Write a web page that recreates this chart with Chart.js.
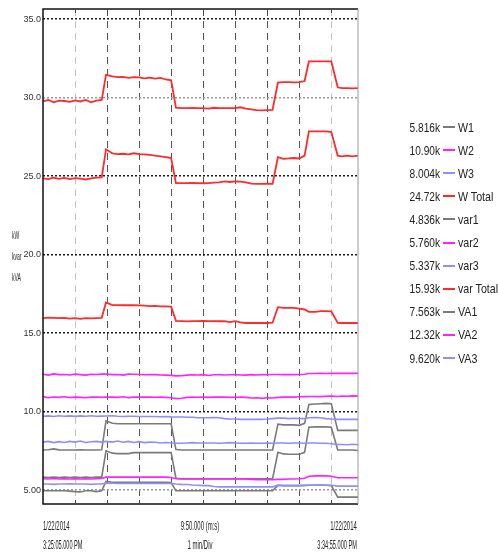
<!DOCTYPE html>
<html>
<head>
<meta charset="utf-8">
<script src="https://cdn.jsdelivr.net/npm/chart.js@4/dist/chart.umd.min.js"></script>
<style>
  body { margin: 0; background: #fff; }
  #wrap { position: relative; width: 498px; height: 557px; overflow: hidden; font-family: 'Liberation Sans', Arial, sans-serif; color: #222; }
  #chart { position: absolute; left: 0; top: 0; }
  .txt { position: absolute; white-space: nowrap; line-height: 1; }
  .swatch { position: absolute; height: 2px; width: 12px; }
</style>
</head>
<body>
<div id="wrap">
  <canvas id="chart" width="498" height="557"></canvas>
</div>
<script>
// time in seconds from 3:25:05.000 PM
const times = [0,10,20,30,40,50,60,70,80,90,100,110,118,130,140,150,160,170,180,190,200,210,220,230,240,249,260,270,280,290,300,310,320,330,340,350,360,370,380,390,400,410,420,430,440,450,460,470,480,490,498,510,520,530,540,552,560,570,580,590];

const w1 = [5.82,5.80,5.82,5.80,5.82,5.80,5.82,5.80,5.82,5.80,5.82,5.82,
  7.50,7.35,7.32,7.32,7.32,7.38,7.38,7.38,7.38,7.38,7.38,7.38,7.38,
  5.75,5.72,5.72,5.72,5.72,5.72,5.72,5.72,5.72,5.72,5.72,5.72,5.72,5.72,5.72,5.72,5.72,5.72,5.72,
  7.40,7.30,7.28,7.28,7.28,7.40,
  9.00,9.02,9.02,9.02,9.00,
  7.55,7.55,7.55,7.55,7.52];
const w2 = [10.95,10.88,10.93,10.90,10.94,10.89,10.92,10.90,10.88,10.92,10.93,10.90,
  10.93,10.92,10.90,10.94,10.88,10.92,10.93,10.92,10.93,10.91,10.92,10.90,10.88,
  10.82,10.85,10.90,10.92,10.91,10.92,10.90,10.92,10.93,10.92,10.90,10.91,10.92,10.90,10.86,10.88,10.84,10.88,10.86,
  10.90,10.92,10.93,10.92,10.94,10.95,
  10.96,10.96,10.95,10.97,10.98,
  10.96,10.98,10.97,11.00,10.98];
const w3 = [8.05,8.10,8.02,8.08,8.03,8.10,8.05,8.12,8.03,8.08,8.10,8.05,
  8.10,8.05,8.12,8.04,8.10,8.03,8.08,8.02,8.05,8.04,8.00,8.03,8.00,
  7.98,7.98,8.00,8.02,8.00,8.00,8.00,8.00,7.98,8.00,8.02,8.00,7.98,7.98,8.00,7.98,7.98,8.00,7.98,
  8.00,8.00,7.98,8.00,8.00,7.98,
  8.00,8.00,7.98,7.98,7.95,
  7.90,7.90,7.88,7.92,7.88];
const wTotal = [24.85,24.80,24.90,24.82,24.88,24.80,24.87,24.83,24.78,24.85,24.90,24.92,
  26.70,26.45,26.40,26.42,26.38,26.45,26.40,26.38,26.35,26.30,26.25,26.20,26.15,
  24.55,24.55,24.55,24.56,24.55,24.54,24.55,24.58,24.60,24.66,24.62,24.66,24.65,24.60,24.52,24.50,24.50,24.52,24.50,
  26.20,26.10,26.12,26.15,26.12,26.30,
  27.85,27.85,27.85,27.85,27.80,
  26.30,26.25,26.30,26.25,26.30];
const var1 = [4.95,4.95,4.95,4.95,4.95,4.93,4.90,4.88,4.95,4.95,4.90,4.95,
  5.55,5.50,5.50,5.50,5.50,5.50,5.50,5.50,5.50,5.50,5.50,5.50,5.48,
  4.95,4.95,4.95,4.95,4.95,4.95,4.95,4.95,4.95,4.95,4.95,4.95,4.95,4.95,4.95,4.95,4.95,4.95,4.95,
  5.30,5.28,5.28,5.28,5.28,5.30,
  5.30,5.30,5.32,5.30,5.28,
  4.55,4.55,4.55,4.55,4.55];
const var2 = [5.72,5.70,5.73,5.70,5.72,5.70,5.72,5.70,5.72,5.70,5.72,5.73,
  5.82,5.82,5.82,5.82,5.82,5.82,5.82,5.82,5.82,5.82,5.82,5.82,5.80,
  5.72,5.70,5.70,5.70,5.70,5.70,5.70,5.70,5.70,5.70,5.70,5.70,5.70,5.70,5.68,5.66,5.65,5.65,5.65,
  5.68,5.68,5.70,5.70,5.72,5.75,
  5.88,5.90,5.90,5.90,5.88,
  5.78,5.78,5.78,5.78,5.78];
const var3 = [5.38,5.38,5.36,5.38,5.38,5.40,5.38,5.38,5.38,5.36,5.38,5.38,
  5.45,5.43,5.42,5.42,5.42,5.43,5.42,5.42,5.42,5.42,5.42,5.42,5.42,
  5.38,5.36,5.35,5.32,5.30,5.28,5.28,5.22,5.20,5.20,5.20,5.20,5.20,5.20,5.20,5.20,5.20,5.20,5.20,
  5.30,5.28,5.28,5.28,5.28,5.28,
  5.30,5.32,5.30,5.30,5.30,
  5.25,5.25,5.25,5.25,5.25];
const varTotal = [15.95,15.98,15.97,15.95,15.96,15.92,15.95,15.90,15.95,15.93,15.95,15.97,
  16.95,16.78,16.78,16.77,16.77,16.77,16.76,16.75,16.72,16.73,16.70,16.70,16.68,
  15.78,15.76,15.74,15.76,15.76,15.78,15.76,15.76,15.75,15.76,15.70,15.76,15.68,15.64,15.64,15.64,15.64,15.64,15.66,
  16.65,16.60,16.60,16.60,16.55,16.50,
  16.35,16.35,16.40,16.40,16.38,
  15.65,15.64,15.64,15.64,15.64];
const va1 = [7.55,7.57,7.62,7.56,7.55,7.55,7.55,7.56,7.55,7.55,7.55,7.56,
  9.40,9.25,9.22,9.22,9.22,9.22,9.22,9.22,9.22,9.22,9.22,9.22,9.22,
  7.58,7.55,7.55,7.55,7.55,7.55,7.55,7.55,7.55,7.55,7.55,7.55,7.55,7.55,7.55,7.55,7.55,7.55,7.55,
  9.20,9.15,9.15,9.15,9.12,9.25,
  10.45,10.48,10.50,10.52,10.50,
  8.80,8.80,8.80,8.80,8.80];
const va2 = [12.38,12.32,12.40,12.35,12.36,12.33,12.38,12.35,12.32,12.37,12.36,12.38,
  12.38,12.35,12.36,12.32,12.38,12.37,12.36,12.34,12.36,12.35,12.33,12.32,12.30,
  12.27,12.28,12.32,12.34,12.33,12.35,12.30,12.34,12.35,12.33,12.34,12.35,12.33,12.32,12.35,12.33,12.35,12.34,12.36,
  12.36,12.35,12.36,12.35,12.36,12.37,
  12.42,12.42,12.43,12.42,12.43,
  12.43,12.43,12.43,12.43,12.43];
const va3 = [9.70,9.72,9.68,9.73,9.70,9.72,9.69,9.72,9.70,9.73,9.70,9.71,
  9.72,9.73,9.70,9.68,9.70,9.70,9.68,9.68,9.68,9.68,9.67,9.68,9.66,
  9.65,9.65,9.64,9.64,9.60,9.60,9.60,9.62,9.60,9.55,9.52,9.52,9.50,9.50,9.50,9.50,9.50,9.52,9.55,
  9.58,9.58,9.55,9.57,9.56,9.55,
  9.60,9.62,9.60,9.55,9.52,
  9.50,9.50,9.50,9.50,9.50];
const vaTotal = [29.75,29.85,29.70,29.80,29.78,29.72,29.82,29.75,29.85,29.70,29.80,29.85,
  31.45,31.35,31.30,31.32,31.25,31.30,31.28,31.22,31.27,31.20,31.25,31.15,31.10,
  29.35,29.33,29.33,29.34,29.33,29.33,29.30,29.35,29.33,29.33,29.33,29.33,29.38,29.30,29.25,29.20,29.18,29.20,29.22,
  30.95,30.98,30.98,30.97,30.98,31.05,
  32.30,32.30,32.30,32.30,32.30,
  30.65,30.60,30.60,30.58,30.60];

const seriesNames = ['W1','W2','W3','W Total','var1','var2','var3','var Total','VA1','VA2','VA3','VA Total'];
const seriesData = [w1, w2, w3, wTotal, var1, var2, var3, varTotal, va1, va2, va3, vaTotal];
// cursor readings shown beside the legend (VA Total is cut off in the original)
const legendReadings = ['5.816k','10.90k','8.004k','24.72k','4.836k','5.760k','5.337k','15.93k','7.563k','12.32k','9.620k'];
const yTicks = [5, 10, 15, 20, 25, 30, 35];
const xDivs = [60, 120, 180, 240, 300, 360, 420, 480, 540];

const phaseColors = { '1': '#7a7a7a', '2': '#ff22ff', '3': '#8e8eff', 'l': '#ff2a2a' };
// gray under blue under magenta under red
const phaseOrder = { '1': 3, '3': 2, '2': 1, 'l': 0 };
function phaseOf(name) {
  const k = name.slice(-1);
  return phaseColors[k] ? k : 'l';
}
function colorFor(name) {
  return phaseColors[phaseOf(name)];
}

const datasets = seriesNames.map((name, i) => ({
  label: name,
  data: times.map((t, j) => ({ x: t, y: seriesData[i][j] })),
  borderColor: colorFor(name),
  borderWidth: name.includes('Total') ? 1.8 : 1.6,
  order: phaseOrder[phaseOf(name)],
  pointRadius: 0,
  tension: 0,
  fill: false
}));

const framePlugin = {
  id: 'frame',
  afterDatasetsDraw(chart) {
    const { ctx, chartArea: a, scales: { x } } = chart;
    ctx.save();
    ctx.strokeStyle = '#111';
    ctx.lineWidth = 1.5;
    ctx.beginPath();
    ctx.moveTo(a.right, a.top);
    ctx.lineTo(a.left, a.top);
    ctx.lineTo(a.left, a.bottom);
    ctx.lineTo(a.right, a.bottom);
    ctx.stroke();
    ctx.strokeStyle = '#9a9a9a';
    ctx.lineWidth = 1;
    ctx.beginPath();
    ctx.moveTo(a.right, a.top);
    ctx.lineTo(a.right, a.bottom);
    ctx.stroke();
    ctx.strokeStyle = '#444';
    x.ticks.forEach(t => {
      const px = Math.round(x.getPixelForValue(t.value)) + 0.5;
      ctx.beginPath();
      ctx.moveTo(px, a.top); ctx.lineTo(px, a.top + 4);
      ctx.moveTo(px, a.bottom); ctx.lineTo(px, a.bottom - 4);
      ctx.stroke();
    });
    ctx.restore();
  }
};

new Chart(document.getElementById('chart'), {
  type: 'line',
  data: { datasets: datasets },
  options: {
    responsive: false,
    animation: false,
    events: [],
    layout: { padding: { left: 0, right: 140, top: 9, bottom: 0 } },
    plugins: { legend: { display: false }, tooltip: { enabled: false } },
    scales: {
      x: {
        type: 'linear',
        min: 0,
        max: 590,
        afterBuildTicks: s => { s.ticks = xDivs.map(v => ({ value: v })); },
        afterFit: s => { s.height = 53; },
        ticks: { display: false },
        grid: {
          drawTicks: false,
          lineWidth: 1,
          color: c => (c.tick && (c.tick.value === 60 || c.tick.value === 540)) ? '#c4c4c4' : '#555'
        },
        border: { display: false, dash: [7, 5] }
      },
      y: {
        min: 4.11,
        max: 35.64,
        afterBuildTicks: s => { s.ticks = yTicks.map(v => ({ value: v })); },
        afterFit: s => { s.width = 43; },
        ticks: {
          padding: 2,
          color: '#333',
          font: { family: "'Liberation Sans', Arial, sans-serif", size: 9 },
          callback: v => v === 5 ? '5.00' : v.toFixed(1)
        },
        grid: {
          drawTicks: false,
          lineWidth: 1.5,
          color: c => (c.tick && (c.tick.value === 30 || c.tick.value === 5)) ? '#9a9a9a' : '#1a1a1a'
        },
        border: { display: false, dash: [2, 2] }
      }
    }
  },
  plugins: [framePlugin]
});

// legend and surrounding labels as real text
const wrap = document.getElementById('wrap');
function addText(str, x, y, size, sx, align) {
  const d = document.createElement('div');
  d.className = 'txt';
  d.textContent = str;
  d.style.fontSize = size + 'px';
  d.style.top = (y - size / 2) + 'px';
  if (align === 'right') {
    d.style.right = (498 - x) + 'px';
    d.style.transformOrigin = 'right center';
    d.style.transform = 'scaleX(' + sx + ')';
  } else if (align === 'center') {
    d.style.left = x + 'px';
    d.style.transformOrigin = 'left center';
    d.style.transform = 'scaleX(' + sx + ') translateX(-50%)';
  } else {
    d.style.left = x + 'px';
    d.style.transformOrigin = 'left center';
    d.style.transform = 'scaleX(' + sx + ')';
  }
  wrap.appendChild(d);
}

legendReadings.forEach((val, i) => {
  const y = 127 + i * 23.1;
  addText(val, 440, y, 13, 0.78, 'right');
  const sw = document.createElement('div');
  sw.className = 'swatch';
  sw.style.left = '443px';
  sw.style.top = (y - 1) + 'px';
  sw.style.background = colorFor(seriesNames[i]);
  wrap.appendChild(sw);
  addText(seriesNames[i], 458, y, 13, 0.82, 'left');
});

['kW', 'kvar', 'kVA'].forEach((u, i) => addText(u, 12, 236 + i * 21, 10, 0.5, 'left'));

addText('1/22/2014', 43, 525, 13, 0.46, 'left');
addText('3:25:05.000 PM', 43, 544, 13, 0.43, 'left');
addText('9:50.000 (m:s)', 200, 525, 13, 0.46, 'center');
addText('1 min/Div', 200, 544, 13, 0.46, 'center');
addText('1/22/2014', 357, 525, 13, 0.46, 'right');
addText('3:34:55.000 PM', 357, 544, 13, 0.43, 'right');
</script>
</body>
</html>
